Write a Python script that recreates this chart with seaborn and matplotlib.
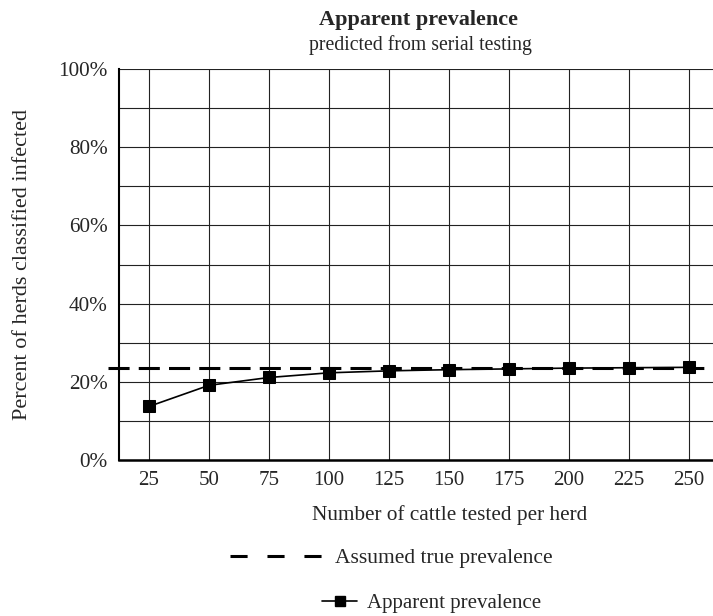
import matplotlib
matplotlib.use("Agg")
import matplotlib.pyplot as plt
import seaborn as sns
import pandas as pd
from matplotlib.lines import Line2D

# data
cattle_tested = [25, 50, 75, 100, 125, 150, 175, 200, 225, 250]
apparent_prev = [13.7, 19.1, 21.1, 22.3, 22.8, 23.1, 23.3, 23.5, 23.6, 23.7]
true_prev = 23.5
y_ticks = [0, 20, 40, 60, 80, 100]
y_tick_labels = ["0%", "20%", "40%", "60%", "80%", "100%"]

sns.set_theme(style="white")
plt.rcParams['font.family'] = ['Liberation Serif', 'DejaVu Serif']
plt.rcParams['font.size'] = 15

df = pd.DataFrame({'cattle': cattle_tested, 'prev': apparent_prev})

fig = plt.figure(figsize=(7.13, 6.16), dpi=100)
ax = fig.add_axes([119 / 713, 1 - 460 / 616, 600 / 713, 391 / 616])

# grid: major every 20%, minor every 10%, vertical at each category
ax.set_axisbelow(True)
for v in range(0, 101, 10):
    ax.axhline(v, color='#222222', lw=0.8, zorder=0)
for c in cattle_tested:
    ax.axvline(c, color='#222222', lw=0.8, zorder=0)

# assumed true prevalence
ax.axhline(true_prev, xmin=-0.018, xmax=1, color='black', lw=2.2,
           dashes=(6.9, 3.0), clip_on=False, zorder=3)

sns.lineplot(data=df, x='cattle', y='prev', ax=ax, color='black', lw=1.2,
             marker='s', markersize=8.5, markeredgecolor='black', zorder=4)

ax.set_xlim(12.5, 262.5)
ax.set_ylim(0, 100)
ax.set_xticks(cattle_tested)
ax.set_xticklabels([str(c) for c in cattle_tested], fontsize=15)
ax.set_yticks(y_ticks)
ax.set_yticklabels(y_tick_labels, fontsize=15.3)
ax.tick_params(axis='y', direction='out', length=5, width=1, color='black', pad=3)
ax.tick_params(axis='x', direction='out', length=4, width=1, color='black', pad=4)

for s in ['top', 'right']:
    ax.spines[s].set_visible(False)
ax.spines['left'].set_color('black')
ax.spines['left'].set_linewidth(1.5)
ax.spines['bottom'].set_color('black')
ax.spines['bottom'].set_linewidth(1.8)

ax.set_xlabel('Number of cattle tested per herd', fontsize=15.3, labelpad=11)
ax.xaxis.label.set_x((450 - 119) / 600)
ax.set_ylabel('Percent of herds classified infected', fontsize=16, labelpad=19)

fig.text(419 / 713, 1 - 20 / 616, 'Apparent prevalence', ha='center', va='center',
         fontsize=16, fontweight='bold')
fig.text(420 / 713, 1 - 45 / 616, 'predicted from serial testing', ha='center',
         va='center', fontsize=14.2)

# legend rows, centred separately as in the reference
h1 = Line2D([], [], color='black', lw=2.2, dashes=(5.6, 6.5))
h2 = Line2D([], [], color='black', lw=1.2, marker='s', markersize=7)
fig.legend([h1], ['Assumed true prevalence'], loc='center left',
           bbox_to_anchor=(230 / 713, 1 - 558 / 616), frameon=False,
           handlelength=4.5, handletextpad=0.4, fontsize=15.5, borderaxespad=0,
           borderpad=0)
fig.legend([h2], ['Apparent prevalence'], loc='center left',
           bbox_to_anchor=(322 / 713, 1 - 603 / 616), frameon=False,
           handlelength=1.7, handletextpad=0.45, fontsize=15, borderaxespad=0,
           borderpad=0)

fig.savefig('out.png', dpi=100)
